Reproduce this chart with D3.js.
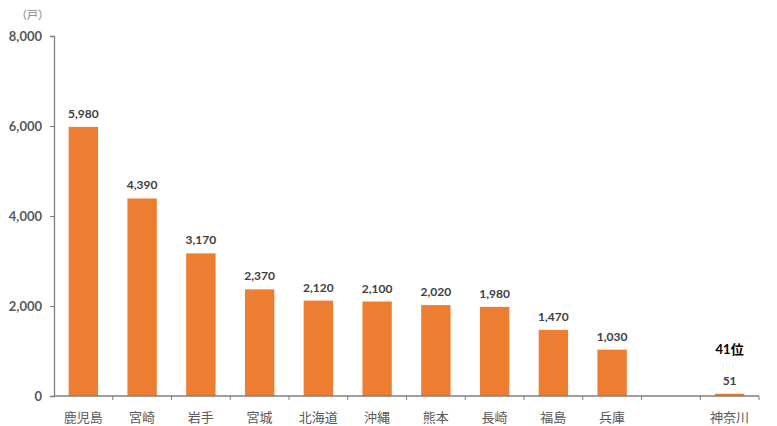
<!DOCTYPE html>
<html><head><meta charset="utf-8">
<script src="https://cdn.jsdelivr.net/npm/d3@7"></script>
<style>body{margin:0;background:#fff}</style>
</head><body>
<svg id="c" width="777" height="426"></svg>
<script>
const categories = ["鹿児島","宮崎","岩手","宮城","北海道","沖縄","熊本","長崎","福島","兵庫","","神奈川"];
const values = [5980,4390,3170,2370,2120,2100,2020,1980,1470,1030,null,51];
const yTicks = [0,2000,4000,6000,8000];
const unitLabel = "（戸）";
const rankLabel = "41位";

const svg = d3.select("#c");
const m = {l:54, r:18, t:36, b:30};
const W = 777, H = 426;
const x = d3.scaleBand().domain(d3.range(categories.length)).range([m.l, W - m.r]).paddingInner(0.5).paddingOuter(0.25);
const y = d3.scaleLinear().domain([0,8000]).range([H - m.b, m.t]);
const numFont = "Lato, 'Noto Sans CJK JP', sans-serif";
const jpFont = "'Noto Sans CJK JP', sans-serif";

// bars
svg.selectAll("rect.bar").data(values.map((v,i)=>({v,i})).filter(d=>d.v!=null)).enter()
  .append("rect").attr("x", d=>x(d.i)).attr("width", x.bandwidth())
  .attr("y", d=>y(d.v)).attr("height", d=>y(0)-y(d.v)).attr("fill","#ED7D31");

// y axis
const ya = svg.append("g").attr("transform",`translate(${m.l},0)`)
  .call(d3.axisLeft(y).tickValues(yTicks).tickSize(4).tickPadding(8).tickFormat(d3.format(",")));
ya.select(".domain").attr("stroke","#7f7f7f").attr("stroke-width",1.3);
ya.selectAll(".tick line").attr("stroke","#7f7f7f");
ya.selectAll("text").attr("fill","#595959").attr("font-family",numFont).attr("font-weight","bold").attr("font-size",13);

// x axis
const xg = svg.append("g");
xg.append("line").attr("x1",m.l).attr("x2",W-m.r).attr("y1",y(0)).attr("y2",y(0)).attr("stroke","#7f7f7f").attr("stroke-width",1.3);
const bounds = d3.range(categories.length+1).map(k => m.l + k*(W-m.r-m.l)/categories.length);
xg.selectAll("line.t").data(bounds.slice(1)).enter().append("line")
  .attr("x1",d=>d).attr("x2",d=>d).attr("y1",y(0)).attr("y2",y(0)+4).attr("stroke","#7f7f7f");
xg.selectAll("text").data(categories.map((c,i)=>({c,i}))).enter().append("text")
  .attr("x",d=>x(d.i)+x.bandwidth()/2).attr("y",y(0)+26).attr("text-anchor","middle")
  .attr("fill","#595959").attr("font-family",jpFont).attr("font-size",13).text(d=>d.c);

// value labels
svg.selectAll("text.val").data(values.map((v,i)=>({v,i})).filter(d=>d.v!=null)).enter()
  .append("text").attr("x",d=>x(d.i)+x.bandwidth()/2).attr("y",d=>y(d.v)-9)
  .attr("text-anchor","middle").attr("fill","#404040").attr("font-family",numFont)
  .attr("font-weight","bold").attr("font-size",12).text(d=>d3.format(",")(d.v));

// rank label
const last = categories.length-1;
svg.append("text").attr("x",x(last)+x.bandwidth()/2).attr("y",y(values[last])-40)
  .attr("text-anchor","middle").attr("fill","#000").attr("font-family",numFont)
  .attr("font-weight","bold").attr("font-size",13).text(rankLabel);

// unit
svg.append("text").attr("x",16).attr("y",19).attr("fill","#7f7f7f")
  .attr("font-family",jpFont).attr("font-size",11).text(unitLabel);
</script>
</body></html>
